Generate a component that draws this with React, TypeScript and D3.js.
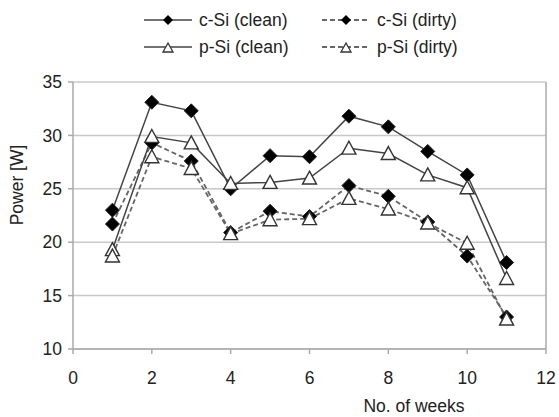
import React from "react";
import * as d3 from "d3";

const weeks = [1, 2, 3, 4, 5, 6, 7, 8, 9, 10, 11];
const cSiClean = [23.0, 33.1, 32.3, 25.0, 28.1, 28.0, 31.8, 30.8, 28.5, 26.3, 18.1];
const cSiDirty = [21.7, 29.3, 27.6, 20.9, 22.9, 22.4, 25.3, 24.3, 21.9, 18.7, 13.0];
const pSiClean = [19.3, 29.9, 29.3, 25.5, 25.6, 26.0, 28.8, 28.3, 26.3, 25.1, 16.6];
const pSiDirty = [18.7, 28.0, 26.9, 20.8, 22.1, 22.2, 24.1, 23.1, 21.8, 19.9, 12.8];
const xTicks = [0, 2, 4, 6, 8, 10, 12];
const yTicks = [10, 15, 20, 25, 30, 35];

const series = [
  { name: "c-Si (clean)", values: cSiClean, dashed: false, marker: "diamond" },
  { name: "c-Si (dirty)", values: cSiDirty, dashed: true, marker: "diamond" },
  { name: "p-Si (clean)", values: pSiClean, dashed: false, marker: "triangle" },
  { name: "p-Si (dirty)", values: pSiDirty, dashed: true, marker: "triangle" },
];

const W = 559, H = 417;
const x = d3.scaleLinear().domain([0, 12]).range([73, 546]);
const y = d3.scaleLinear().domain([10, 35]).range([349, 82]);
const font = "'Liberation Sans', Arial, sans-serif";
const gridColor = "#c8c8c8";
const axisColor = "#aaaaaa";
const fs = 17.5;

function Marker({ kind, cx, cy }: { kind: string; cx: number; cy: number }) {
  if (kind === "diamond") {
    const s = 7;
    return (
      <path
        d={`M${cx},${cy - s}L${cx + s},${cy}L${cx},${cy + s}L${cx - s},${cy}Z`}
        fill="#000"
        stroke="#222"
        strokeWidth={1}
      />
    );
  }
  const s = 7;
  return (
    <path
      d={`M${cx},${cy - s}L${cx + s},${cy + s * 0.85}L${cx - s},${cy + s * 0.85}Z`}
      fill="#fff"
      stroke="#333"
      strokeWidth={1.4}
    />
  );
}

export default function App() {
  const line = d3
    .line<number>()
    .x((_, i) => x(weeks[i]))
    .y((d) => y(d));

  const legendItems = [
    { s: series[0], lx: 144, ly: 20 },
    { s: series[1], lx: 322, ly: 20 },
    { s: series[2], lx: 144, ly: 47 },
    { s: series[3], lx: 322, ly: 47 },
  ];

  return (
    <svg
      width={W}
      height={H}
      style={{ position: "absolute", left: 0, top: 0, background: "#fff" }}
      fontFamily={font}
    >
      <rect width={W} height={H} fill="#fff" />
      {yTicks.map((t) => (
        <line key={t} x1={x(0)} x2={x(12)} y1={y(t)} y2={y(t)} stroke={gridColor} strokeWidth={1.5} />
      ))}
      <line x1={x(0)} x2={x(0)} y1={y(35)} y2={y(10)} stroke={axisColor} strokeWidth={1.5} />
      <line x1={x(12)} x2={x(12)} y1={y(35)} y2={y(10)} stroke={axisColor} strokeWidth={1.5} />
      <line x1={x(0)} x2={x(12)} y1={y(10)} y2={y(10)} stroke={axisColor} strokeWidth={1.5} />
      {yTicks.map((t) => (
        <g key={"yt" + t}>
          <line x1={x(0) - 5} x2={x(0)} y1={y(t)} y2={y(t)} stroke={axisColor} strokeWidth={1.5} />
          <text x={x(0) - 11} y={y(t)} dy="0.35em" textAnchor="end" fontSize={fs} fill="#222">
            {t}
          </text>
        </g>
      ))}
      {xTicks.map((t) => (
        <g key={"xt" + t}>
          <line x1={x(t)} x2={x(t)} y1={y(10)} y2={y(10) + 5} stroke={axisColor} strokeWidth={1.5} />
          <text x={x(t)} y={y(10) + 29} dy="0.35em" textAnchor="middle" fontSize={fs} fill="#222">
            {t}
          </text>
        </g>
      ))}
      <text x={414} y={406} dy="0.35em" textAnchor="middle" fontSize={fs} fill="#222">
        No. of weeks
      </text>
      <text
        transform={`translate(17,185) rotate(-90)`}
        dy="0.35em"
        textAnchor="middle"
        fontSize={fs}
        fill="#222"
      >
        Power [W]
      </text>
      {series.map((s) => (
        <path
          key={s.name}
          d={line(s.values) || ""}
          fill="none"
          stroke={s.dashed ? "#666" : "#444"}
          strokeWidth={s.dashed ? 1.8 : 1.5}
          strokeDasharray={s.dashed ? "5,3" : undefined}
        />
      ))}
      {series.map((s) =>
        s.values.map((v, i) => (
          <Marker key={s.name + i} kind={s.marker} cx={x(weeks[i])} cy={y(v)} />
        ))
      )}
      {legendItems.map(({ s, lx, ly }) => (
        <g key={"lg" + s.name}>
          <line
            x1={lx}
            x2={lx + 48}
            y1={ly}
            y2={ly}
            stroke={s.dashed ? "#666" : "#444"}
            strokeWidth={s.dashed ? 1.8 : 1.5}
            strokeDasharray={s.dashed ? "5,3" : undefined}
          />
          {s.marker === "diamond" ? (
            <path
              d={`M${lx + 24},${ly - 5}L${lx + 29},${ly}L${lx + 24},${ly + 5}L${lx + 19},${ly}Z`}
              fill="#000"
            />
          ) : (
            <path
              d={`M${lx + 24},${ly - 4}L${lx + 29},${ly + 5}L${lx + 19},${ly + 5}Z`}
              fill="#fff"
              stroke="#333"
              strokeWidth={1.3}
            />
          )}
          <text x={lx + 55} y={ly} dy="0.35em" fontSize={fs} fill="#222">
            {s.name}
          </text>
        </g>
      ))}
    </svg>
  );
}
